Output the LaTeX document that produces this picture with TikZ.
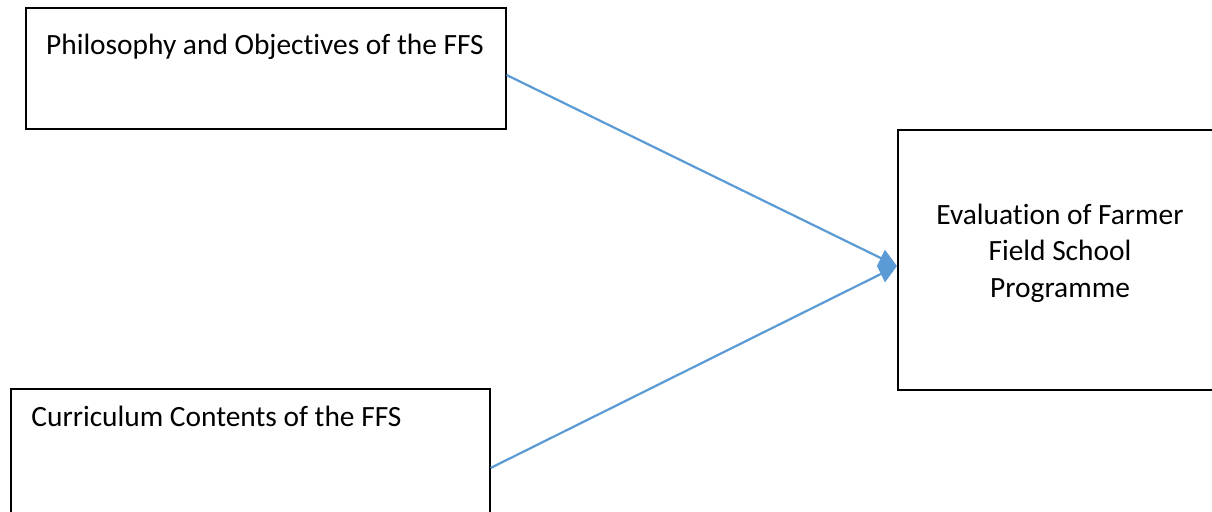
\documentclass[tikz,border=0pt]{standalone}
\usepackage{fontspec}
\setmainfont[Ligatures={NoCommon}]{Carlito}
\usetikzlibrary{arrows.meta}
\definecolor{officeblue}{HTML}{5B9BD5}
\tikzset{
  boxshape/.style={draw=black, line width=0.8pt, fill=white},
  boxtext/.style={inner sep=0pt, font=\fontsize{14.7pt}{18.2pt}\selectfont},
  link/.style={draw=officeblue, line width=1.1pt, -{Triangle[length=9pt,width=9pt]}}
}
\begin{document}
\begin{tikzpicture}[x=0.5pt,y=-0.5pt]
\useasboundingbox (0,0) rectangle (1212,512);
\clip (0,0) rectangle (1212,512);
\fill[white] (0,0) rectangle (1212,512);
% boxes
\node[boxshape, minimum width=240pt, minimum height=60.5pt, anchor=north west, inner sep=0pt] (box1) at (25,7) {};
\node[boxshape, minimum width=239.5pt, minimum height=70pt, anchor=north west, inner sep=0pt] (box2) at (10,388) {};
\node[boxshape, minimum width=164pt, minimum height=130pt, anchor=north west, inner sep=0pt] (box3) at (897,129) {};
% texts
\node[boxtext, anchor=base] (t1) at (265,55) {Philosophy and Objectives of the FFS};
\node[boxtext, anchor=base west] (t2) at (31,427) {Curriculum Contents of the FFS};
\node[boxtext, align=center, anchor=center] (t3) at (1060,253) {Evaluation of Farmer\\Field School\\Programme};
% connector ends
\coordinate (s1) at (box1.east |- 0,75);
\coordinate (s2) at (box2.east |- 0,468);
\coordinate (tip) at (box3.west |- 0,266);
\draw[link] (s1) -- (tip);
\draw[link] (s2) -- (tip);
\end{tikzpicture}
\end{document}
